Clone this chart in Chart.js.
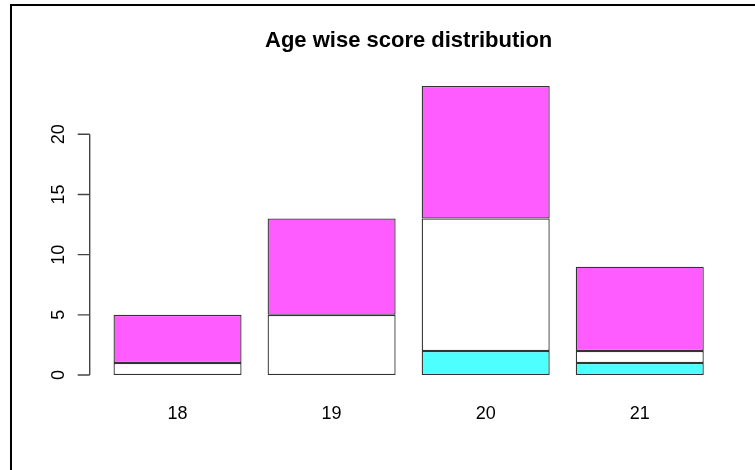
<!DOCTYPE html>
<html>
<head>
<meta charset="utf-8">
<style>
  html, body { margin: 0; padding: 0; background: #ffffff; }
  #wrap { width: 755px; height: 470px; position: relative; }
  canvas { display: block; }
</style>
<script src="https://cdn.jsdelivr.net/npm/chart.js@4.4.1/dist/chart.umd.min.js"></script>
</head>
<body>
<div id="wrap"><canvas id="c" width="755" height="470"></canvas></div>
<script>
// ---- data ----
const categories = ['18', '19', '20', '21'];
const lowScores  = [0, 0, 2, 1];    // cyan (bottom)
const midScores  = [1, 5, 11, 1];   // white (middle)
const highScores = [4, 8, 11, 7];   // magenta (top)
const yTicks = [0, 5, 10, 15, 20];
const chartTitle = 'Age wise score distribution';

// ---- styles ----
const FONT = '"Liberation Sans", Arial, Helvetica, sans-serif';
const COL_LOW = '#4dffff';
const COL_MID = '#ffffff';
const COL_HIGH = '#ff5cff';
const EDGE = '#333333';

// R-style frame + offset y axis drawn from the chart's own y scale
const rStylePlugin = {
  id: 'rStyle',
  afterDraw(chart) {
    const ctx = chart.ctx;
    const y = chart.scales.y;
    const area = chart.chartArea;
    ctx.save();
    // outer frame (left + top edges)
    ctx.fillStyle = '#000000';
    ctx.fillRect(10, 4, 745, 2);
    ctx.fillRect(10, 4, 2, 466);

    // y axis line from first to last tick
    const axisX = area.left - 10.8;
    const yTop = y.getPixelForValue(yTicks[yTicks.length - 1]);
    const yBot = y.getPixelForValue(yTicks[0]);
    ctx.strokeStyle = '#444444';
    ctx.lineWidth = 1.4;
    ctx.beginPath();
    ctx.moveTo(axisX, yTop);
    ctx.lineTo(axisX, yBot);
    yTicks.forEach(v => {
      const py = y.getPixelForValue(v);
      ctx.moveTo(axisX, py);
      ctx.lineTo(axisX - 12, py);
    });
    ctx.stroke();

    // rotated tick labels
    ctx.fillStyle = '#000000';
    ctx.font = '18px ' + FONT;
    ctx.textAlign = 'center';
    ctx.textBaseline = 'alphabetic';
    yTicks.forEach(v => {
      const py = y.getPixelForValue(v);
      ctx.save();
      ctx.translate(axisX - 26, py);
      ctx.rotate(-Math.PI / 2);
      ctx.fillText(String(v), 0, 0);
      ctx.restore();
    });
    ctx.restore();
  }
};

const common = {
  borderColor: EDGE,
  borderWidth: 1.3,
  borderSkipped: false,
  categoryPercentage: 1.0,
  barPercentage: 0.831
};

new Chart(document.getElementById('c'), {
  type: 'bar',
  data: {
    labels: categories,
    datasets: [
      Object.assign({ label: 'low',  data: lowScores,  backgroundColor: COL_LOW  }, common),
      Object.assign({ label: 'mid',  data: midScores,  backgroundColor: COL_MID  }, common),
      Object.assign({ label: 'high', data: highScores, backgroundColor: COL_HIGH }, common)
    ]
  },
  options: {
    responsive: false,
    animation: false,
    devicePixelRatio: 1,
    layout: { padding: { left: 100.5, right: 38.2, top: 0, bottom: 0 } },
    plugins: {
      legend: { display: false },
      tooltip: { enabled: false },
      title: {
        display: true,
        text: chartTitle,
        color: '#000000',
        font: { family: FONT, size: 22, weight: 'bold', lineHeight: 1.2 },
        padding: { top: 28.2, bottom: 19.9 }
      }
    },
    scales: {
      x: {
        stacked: true,
        offset: true,
        grid: { display: false },
        border: { display: false },
        ticks: {
          color: '#000000',
          font: { family: FONT, size: 18 },
          padding: 8.3,
          maxRotation: 0
        },
        afterFit(scale) { scale.height = 83.4; }
      },
      y: {
        stacked: true,
        display: false,
        min: -0.96,
        max: 24.96
      }
    }
  },
  plugins: [rStylePlugin]
});
</script>
</body>
</html>
